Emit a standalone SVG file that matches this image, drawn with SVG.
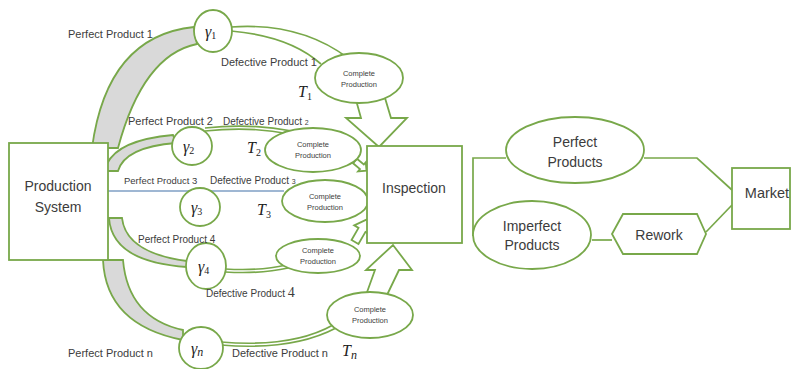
<svg xmlns="http://www.w3.org/2000/svg" width="792" height="369" viewBox="0 0 792 369">
<style>
.g{fill:none;stroke:#78a84a;stroke-width:1.7}
.w{fill:#fff;stroke:#78a84a;stroke-width:1.8}
.band{fill:#d9d9d9;stroke:#78a84a;stroke-width:1.8}
.lbl{font-family:"Liberation Sans",Arial,sans-serif;fill:#3c3c3c}
.big{font-size:14px;text-anchor:middle}
.cp{font-family:"Liberation Sans",Arial,sans-serif;font-size:7.5px;fill:#404040;text-anchor:middle}
.m{font-family:"Liberation Serif","DejaVu Serif",serif;font-style:italic;fill:#222;font-size:16px}
.sub{font-style:normal;font-size:10px}
</style>
<rect width="792" height="369" fill="#fff"/>
<g id="connectors">
<path class="band" d="M92,148 Q107,36 194,27 L197,44 Q143,55 118,148 Z"/>
<path class="band" d="M107,164 Q118,140 173,135 L176,143 Q125,147 118,171 L107,171 Z"/>
<path class="band" d="M109,218 Q112,262 187,267 L187,261 Q126,253 122,218 Z"/>
<path class="band" d="M103,260 Q106,325 183,340 L183,330 Q128,318 123,260 Z"/>
<path class="g" d="M231,27 Q300,22 348,58"/>
<path class="g" d="M231,31 Q290,36 321,64"/>
<path class="g" d="M205,128 Q250,123 292,131"/>
<path class="g" d="M205,131 Q250,126 290,134"/>
<line x1="108" y1="191" x2="284" y2="191" stroke="#7f9fc4" stroke-width="1.3"/>
<path class="g" d="M225,269 Q262,271 286,265"/>
<path class="g" d="M225,272 Q262,274 288,268"/>
<path class="g" d="M221,342 Q292,348 333,325"/>
<path class="g" d="M221,345 Q292,351 336,328"/>
<polygon class="w" points="356,100 361,118 346,118 379,147 407,118 391,118 385,98"/>
<polygon class="w" points="0,-3 9,-3 9,-6 15,0 9,6 9,3 0,3" transform="translate(355,161) rotate(40)"/>
<polygon class="w" points="0,-4 14,-4 14,-9 27,0 14,9 14,4 0,4" transform="translate(355,242) rotate(-60)"/>
<polygon class="w" points="366,295 375,270 366,270 393,245 412,270 399,270 387,295"/>
<polyline class="g" points="506,158 473,158 473,236"/>
<polyline class="g" points="644,158 697,158 732,190"/>
<line class="g" x1="592" y1="240" x2="612" y2="240"/>
<line class="g" x1="706" y1="232" x2="732" y2="205"/>
</g>
<g id="production">
<rect class="w" x="9" y="143" width="99" height="117"/>
<text class="lbl big" x="58" y="191">Production</text>
<text class="lbl big" x="58" y="212">System</text>
</g>
<g id="g1"><ellipse class="w" cx="213" cy="31" rx="19" ry="21"/><text class="m" x="205" y="37">γ<tspan class="sub" dy="2">1</tspan></text></g>
<g id="g2"><ellipse class="w" cx="192" cy="146" rx="20" ry="19"/><text class="m" x="183" y="152">γ<tspan class="sub" dy="2">2</tspan></text></g>
<g id="g3"><ellipse class="w" cx="200" cy="207" rx="20" ry="19"/><text class="m" x="191" y="213">γ<tspan class="sub" dy="2">3</tspan></text></g>
<g id="g4"><ellipse class="w" cx="206" cy="266" rx="20" ry="23"/><text class="m" x="198" y="272">γ<tspan class="sub" dy="2">4</tspan></text></g>
<g id="gn"><ellipse class="w" cx="201" cy="348" rx="22" ry="21"/><text class="m" x="191" y="354">γ<tspan class="sub" dy="2" style="font-style:italic;font-size:12px">n</tspan></text></g>
<g id="cp1"><ellipse class="w" cx="359" cy="78" rx="44" ry="25"/><text class="cp" x="359" y="76">Complete</text><text class="cp" x="359" y="87">Production</text></g>
<g id="cp2"><ellipse class="w" cx="313" cy="150" rx="48" ry="22"/><text class="cp" x="313" y="147">Complete</text><text class="cp" x="313" y="158">Production</text></g>
<g id="cp3"><ellipse class="w" cx="325" cy="201" rx="43" ry="21"/><text class="cp" x="325" y="199">Complete</text><text class="cp" x="325" y="210">Production</text></g>
<g id="cp4"><ellipse class="w" cx="318" cy="256" rx="42" ry="17"/><text class="cp" x="318" y="253">Complete</text><text class="cp" x="318" y="264">Production</text></g>
<g id="cpn"><ellipse class="w" cx="370" cy="315" rx="43" ry="23"/><text class="cp" x="370" y="312">Complete</text><text class="cp" x="370" y="323">Production</text></g>
<g id="inspection">
<rect class="w" x="367" y="146" width="95" height="97"/>
<text class="lbl big" x="414" y="193">Inspection</text>
</g>
<g id="perfect">
<ellipse class="w" cx="575" cy="150" rx="69" ry="33"/>
<text class="lbl big" x="575" y="147">Perfect</text>
<text class="lbl big" x="575" y="167">Products</text>
</g>
<g id="imperfect">
<ellipse class="w" cx="532" cy="235" rx="59" ry="34"/>
<text class="lbl big" x="532" y="231">Imperfect</text>
<text class="lbl big" x="532" y="250">Products</text>
</g>
<g id="rework">
<polygon class="w" points="612,234 623,214 697,214 706,234 697,254 623,254"/>
<text class="lbl big" x="659" y="240">Rework</text>
</g>
<g id="market">
<rect class="w" x="732" y="168" width="58" height="61"/>
<text class="lbl big" x="767" y="198" style="font-size:14.5px">Market</text>
</g>
<g id="labels">
<text class="lbl" x="68" y="38" font-size="11">Perfect Product 1</text>
<text class="lbl" x="221" y="66" font-size="11">Defective Product 1</text>
<text class="m" x="298" y="97">T<tspan class="sub" dy="3">1</tspan></text>
<text class="lbl" x="128" y="125" font-size="11">Perfect Product 2</text>
<text class="lbl" x="223" y="125" font-size="10">Defective Product <tspan font-size="7">2</tspan></text>
<text class="m" x="247" y="153">T<tspan class="sub" dy="3">2</tspan></text>
<text class="lbl" x="124" y="184" font-size="9.5">Perfect Product 3</text>
<text class="lbl" x="210" y="184" font-size="10">Defective Product <tspan font-size="7">3</tspan></text>
<text class="m" x="257" y="215">T<tspan class="sub" dy="3">3</tspan></text>
<text class="lbl" x="138" y="243" font-size="10">Perfect Product 4</text>
<text class="lbl" x="206" y="297" font-size="10">Defective Product <tspan font-family="Liberation Serif,serif" font-size="14">4</tspan></text>
<text class="lbl" x="68" y="357" font-size="11">Perfect Product n</text>
<text class="lbl" x="232" y="357" font-size="11">Defective Product n</text>
<text class="m" x="342" y="356">T<tspan class="sub" dy="3" style="font-style:italic;font-size:12px">n</tspan></text>
</g>
</svg>
